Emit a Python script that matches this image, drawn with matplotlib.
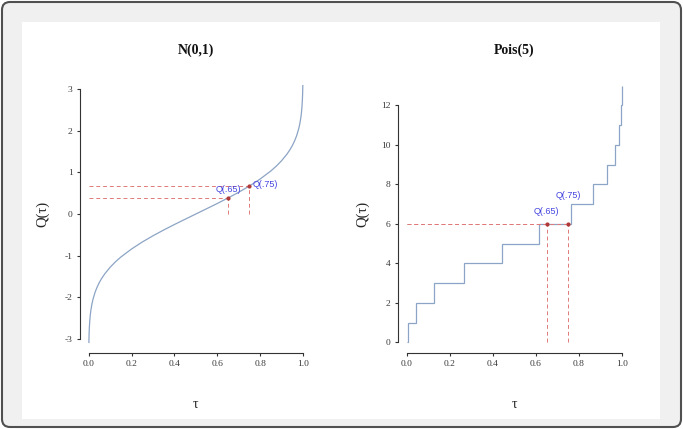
import matplotlib
matplotlib.use("Agg")
import matplotlib.pyplot as plt
from matplotlib.patches import FancyBboxPatch, Rectangle
from matplotlib.transforms import IdentityTransform

# ---------------- data ----------------
norm_tau = [0.001, 0.002, 0.003, 0.005, 0.0075, 0.01, 0.015, 0.02, 0.03, 0.04,
            0.05, 0.06, 0.075, 0.1, 0.125, 0.15, 0.2, 0.25, 0.3, 0.35, 0.4,
            0.45, 0.5, 0.55, 0.6, 0.65, 0.7, 0.75, 0.8, 0.85, 0.875, 0.9,
            0.925, 0.94, 0.95, 0.96, 0.97, 0.98, 0.985, 0.99, 0.9925, 0.995,
            0.997, 0.998, 0.999]
norm_q = [-3.090, -2.878, -2.748, -2.576, -2.432, -2.326, -2.170, -2.054,
          -1.881, -1.751, -1.645, -1.555, -1.440, -1.282, -1.150, -1.036,
          -0.842, -0.674, -0.524, -0.385, -0.253, -0.126, 0.0, 0.126, 0.253,
          0.385, 0.524, 0.674, 0.842, 1.036, 1.150, 1.282, 1.440, 1.555,
          1.645, 1.751, 1.881, 2.054, 2.170, 2.326, 2.432, 2.576, 2.748,
          2.878, 3.090]

pois_edges = [0.001, 0.0067, 0.0404, 0.1247, 0.2650, 0.4405, 0.6160, 0.7622,
              0.8666, 0.9319, 0.9682, 0.9863, 0.9945, 0.9980, 0.999]
pois_q = [0, 1, 2, 3, 4, 5, 6, 7, 8, 9, 10, 11, 12, 13]

mark_tau = [0.65, 0.75]
mark_labels = ["Q(.65)", "Q(.75)"]
norm_mark_q = [0.385, 0.674]
pois_mark_q = [6, 6]

titles = ["N(0,1)", "Pois(5)"]
x_ticks = [0.0, 0.2, 0.4, 0.6, 0.8, 1.0]
norm_yticks = [-3, -2, -1, 0, 1, 2, 3]
pois_yticks = [0, 2, 4, 6, 8, 10, 12]

# ---------------- style ----------------
W, H = 683, 429
SERIF = ["Liberation Serif", "DejaVu Serif"]
SANS = ["Liberation Sans", "DejaVu Sans"]
curve_col = "#8ca4c5"
dash_col = "#e07a7a"
pt_col = "#b03a3a"
txt_col = "#4545e0"
ax_col = "#333333"

fig = plt.figure(figsize=(W / 100, H / 100), dpi=100)
fig.patch.set_facecolor("white")

frame = FancyBboxPatch((2, 2), W - 4, H - 4,
                       boxstyle="round,pad=0,rounding_size=8",
                       transform=IdentityTransform(), facecolor="#f0f0f0",
                       edgecolor="#505050", linewidth=1.5, zorder=-10)
fig.add_artist(frame)
panel = Rectangle((22, 10), 638, 397, transform=IdentityTransform(),
                  facecolor="white", edgecolor="none", zorder=-9)
fig.add_artist(panel)

top_px, bot_px = 75.3, 352.7
ax_specs = [(80.1, 231.5), (398.4, 232.2)]
axes = []
for (lx, wx) in ax_specs:
    a = fig.add_axes([lx / W, (H - bot_px) / H, wx / W, (bot_px - top_px) / H])
    a.set_facecolor("none")
    axes.append(a)

def style_axis(a, yticks):
    for s in ["top", "right"]:
        a.spines[s].set_visible(False)
    for s in ["left", "bottom"]:
        a.spines[s].set_color(ax_col)
        a.spines[s].set_linewidth(0.8)
    a.spines["left"].set_bounds(yticks[0], yticks[-1])
    a.spines["bottom"].set_bounds(0, 1)
    a.set_xticks(x_ticks)
    a.set_xticklabels([f"{t:.1f}" for t in x_ticks])
    a.set_yticks(yticks)
    a.set_yticklabels([str(t) for t in yticks])
    a.tick_params(direction="out", length=2.5, width=0.8, color=ax_col,
                  labelsize=6.8, labelcolor="#3a3a3a")
    a.tick_params(axis="x", pad=3)
    a.tick_params(axis="y", pad=3)
    for lab in a.get_xticklabels() + a.get_yticklabels():
        lab.set_family(SERIF)

# ---- left: normal ----
ax = axes[0]
ax.set_xlim(-0.04, 1.04)
ax.set_ylim(-3.337, 3.337)
ax.plot(norm_tau, norm_q, color=curve_col, lw=0.9, zorder=2)
for t, q in zip(mark_tau, norm_mark_q):
    ax.plot([0, t], [q, q], color=dash_col, lw=0.7, ls=(0, (4, 3)), zorder=3)
    ax.plot([t, t], [0, q], color=dash_col, lw=0.7, ls=(0, (4, 3)), zorder=3)
ax.scatter(mark_tau, norm_mark_q, s=9, color=pt_col, zorder=4, linewidths=0)
ax.annotate(mark_labels[0], (mark_tau[0], norm_mark_q[0]), xytext=(0, 3),
            textcoords="offset points", ha="center", va="bottom",
            fontsize=6.5, color=txt_col, family=SANS)
ax.annotate(mark_labels[1], (mark_tau[1], norm_mark_q[1]), xytext=(2, 1),
            textcoords="offset points", ha="left", va="center",
            fontsize=6.5, color=txt_col, family=SANS)
style_axis(ax, norm_yticks)

# ---- right: poisson ----
ax = axes[1]
ax.set_xlim(-0.04, 1.04)
ax.set_ylim(-0.52, 13.52)
ax.stairs(pois_q, pois_edges, baseline=None, color=curve_col, lw=0.9, zorder=2)
for t, q in zip(mark_tau, pois_mark_q):
    ax.plot([0, t], [q, q], color=dash_col, lw=0.7, ls=(0, (4, 3)), zorder=3)
    ax.plot([t, t], [0, q], color=dash_col, lw=0.7, ls=(0, (4, 3)), zorder=3)
ax.scatter(mark_tau, pois_mark_q, s=9, color=pt_col, zorder=4, linewidths=0)
ax.annotate(mark_labels[0], (mark_tau[0], pois_mark_q[0]), xytext=(0, 5.5),
            textcoords="offset points", ha="center", va="bottom",
            fontsize=6.5, color=txt_col, family=SANS)
ax.annotate(mark_labels[1], (mark_tau[1], pois_mark_q[1]), xytext=(0, 17),
            textcoords="offset points", ha="center", va="bottom",
            fontsize=6.5, color=txt_col, family=SANS)
style_axis(ax, pois_yticks)

# ---- titles & axis labels ----
for (lx, wx), title, ylx in zip(ax_specs, titles, [42.5, 362.5]):
    cx = (lx + wx / 2) / W
    fig.text(cx, 1 - 50 / H, title, ha="center", va="center", fontsize=10,
             fontweight="bold", family=SERIF, color="#111111")
    fig.text(cx, 1 - 404 / H, "τ", ha="center", va="center", fontsize=10,
             family=SERIF, color="#222222")
    fig.text(ylx / W, 1 - 214 / H, "Q(τ)", ha="center", va="center",
             rotation=90, fontsize=10.5, family=SERIF, color="#222222")

fig.savefig("out.png", dpi=100)
